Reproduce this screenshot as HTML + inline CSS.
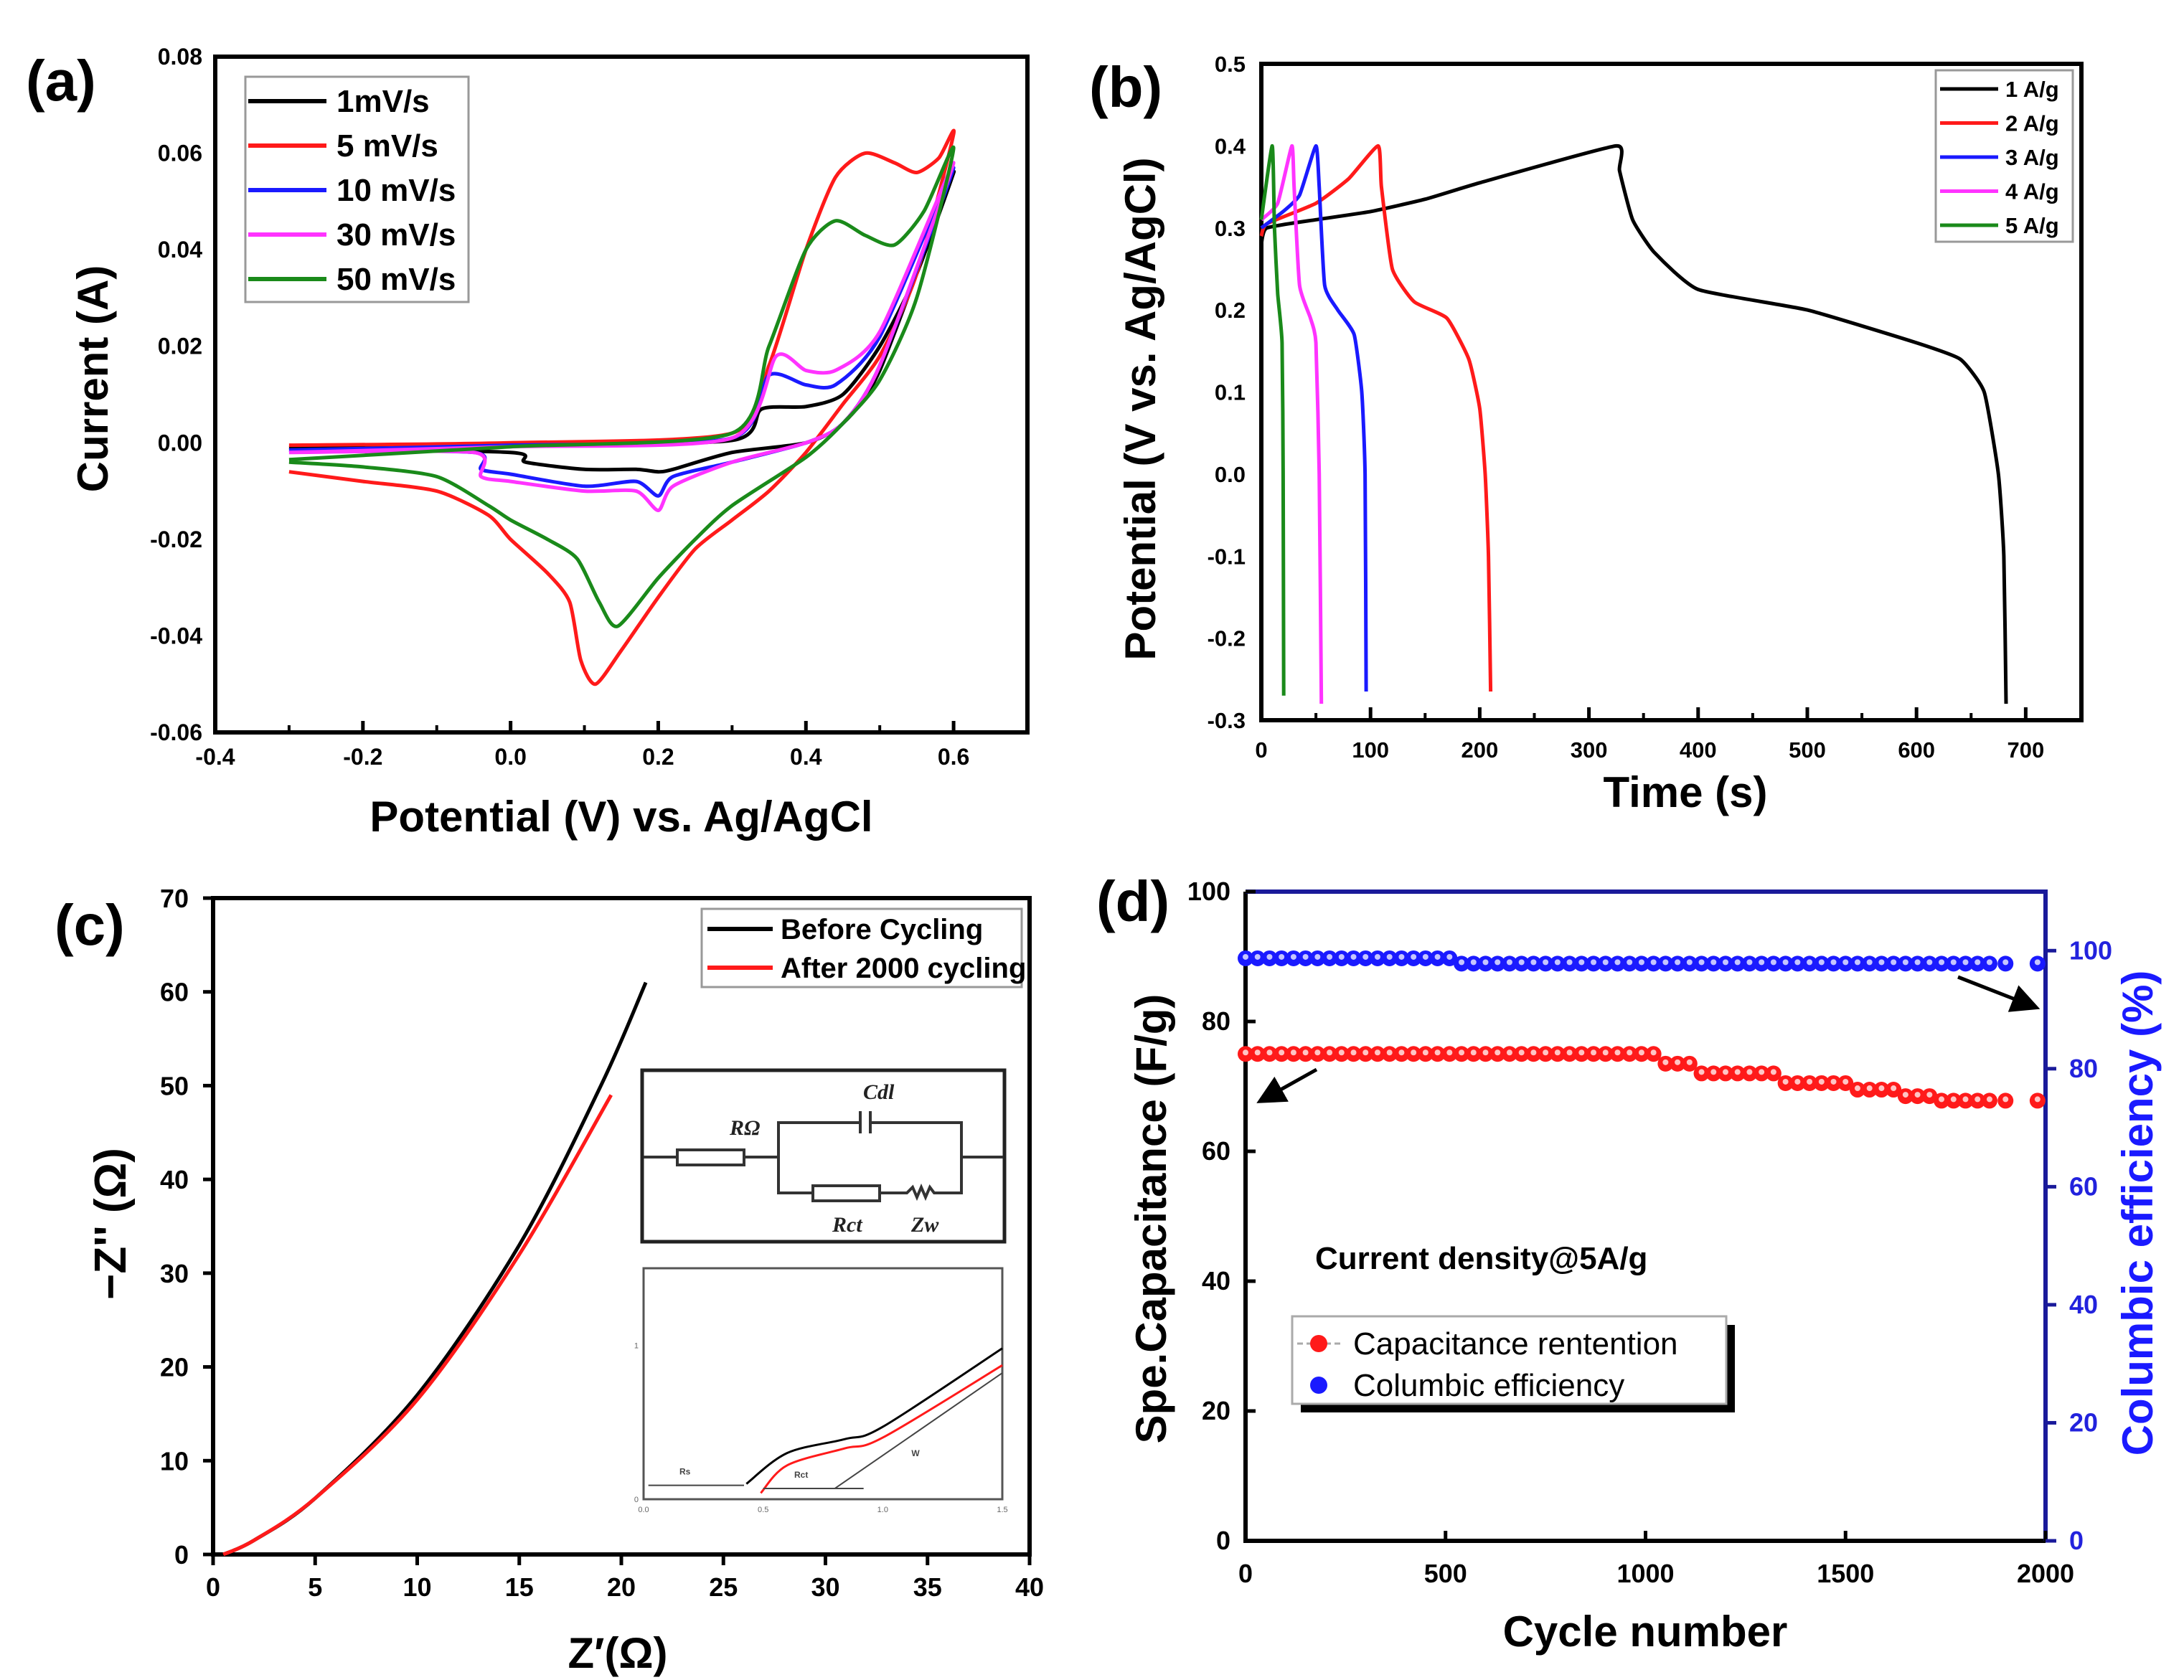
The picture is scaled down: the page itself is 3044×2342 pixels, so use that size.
<!DOCTYPE html>
<html><head><meta charset="utf-8"><style>
html,body{margin:0;padding:0;background:#fff}
svg{display:block;font-family:"Liberation Sans Narrow","Liberation Sans",Arial,sans-serif;font-weight:bold}
</style></head><body>
<svg id="fig" width="3044" height="2342" viewBox="0 0 3044 2342" xmlns="http://www.w3.org/2000/svg"></svg>
<script>
// ---------- data panel (a) CV ----------
const cvNames=["1mV/s","5 mV/s","10 mV/s","30 mV/s","50 mV/s"];
const cvColors=["#000000","#ff1a1a","#1a1aff","#ff33ff","#1a8a1a"];
const cv1=[[-0.3,-0.001],[0,-0.0005],[0.3,0.0005],[0.34,0.007],[0.4,0.0075],[0.45,0.01],[0.5,0.02],[0.55,0.035],[0.6,0.056],[0.5,0.015],[0.45,0.004],[0.4,0.0],[0.3,-0.002],[0.22,-0.0055],[0.2,-0.006],[0.17,-0.0055],[0.1,-0.0055],[0.02,-0.004],[0,-0.002],[-0.3,-0.001]];
const cv5=[[-0.3,-0.0005],[0,0.0],[0.3,0.002],[0.35,0.016],[0.4,0.04],[0.44,0.055],[0.48,0.06],[0.52,0.058],[0.55,0.056],[0.58,0.059],[0.6,0.064],[0.55,0.035],[0.5,0.018],[0.45,0.008],[0.4,-0.002],[0.35,-0.01],[0.3,-0.016],[0.25,-0.022],[0.2,-0.032],[0.15,-0.043],[0.115,-0.05],[0.095,-0.045],[0.08,-0.033],[0.05,-0.027],[0.0,-0.02],[-0.03,-0.015],[-0.1,-0.01],[-0.2,-0.008],[-0.3,-0.006]];
const cv10=[[-0.3,-0.0015],[0,-0.0005],[0.3,0.001],[0.35,0.014],[0.4,0.012],[0.44,0.012],[0.5,0.022],[0.6,0.057],[0.5,0.016],[0.45,0.004],[0.4,0.0],[0.3,-0.004],[0.22,-0.007],[0.2,-0.011],[0.17,-0.008],[0.1,-0.009],[0.0,-0.0065],[-0.04,-0.0055],[-0.05,-0.002],[-0.3,-0.0015]];
const cv30=[[-0.3,-0.002],[0,-0.0008],[0.3,0.001],[0.36,0.018],[0.4,0.015],[0.44,0.015],[0.5,0.023],[0.6,0.058],[0.5,0.016],[0.45,0.004],[0.4,0.0],[0.3,-0.004],[0.22,-0.009],[0.2,-0.014],[0.17,-0.010],[0.1,-0.010],[0.0,-0.008],[-0.04,-0.007],[-0.05,-0.002],[-0.3,-0.002]];
const cv50=[[-0.3,-0.0035],[0,-0.0008],[0.3,0.002],[0.35,0.02],[0.4,0.04],[0.44,0.046],[0.48,0.043],[0.52,0.041],[0.56,0.048],[0.6,0.061],[0.55,0.03],[0.5,0.013],[0.45,0.004],[0.4,-0.003],[0.3,-0.013],[0.25,-0.02],[0.2,-0.028],[0.145,-0.038],[0.12,-0.033],[0.09,-0.024],[0.05,-0.02],[0.0,-0.016],[-0.03,-0.013],[-0.1,-0.007],[-0.2,-0.005],[-0.3,-0.004]];
const cvSeries=[cv1,cv5,cv10,cv30,cv50];
const aXTicks=[-0.4,-0.2,0.0,0.2,0.4,0.6];
const aYTicks=[0.08,0.06,0.04,0.02,0.00,-0.02,-0.04,-0.06];
// ---------- panel (b) GCD ----------
const gcdNames=["1 A/g","2 A/g","3 A/g","4 A/g","5 A/g"];
const gcdColors=["#000000","#ff1a1a","#1a1aff","#ff33ff","#1a8a1a"];
const g1=[[0,0.28],[5,0.30],[50,0.31],[100,0.32],[150,0.335],[200,0.355],[325,0.40],[328,0.37],[340,0.31],[360,0.27],[400,0.225],[500,0.20],[600,0.16],[640,0.14],[662,0.10],[675,0.0],[680,-0.1],[682,-0.28]];
const g2=[[0,0.29],[5,0.305],[50,0.33],[80,0.36],[107,0.40],[110,0.35],[120,0.25],[140,0.21],[170,0.19],[190,0.14],[200,0.08],[205,0.0],[208,-0.1],[210,-0.265]];
const g3=[[0,0.30],[20,0.32],[35,0.34],[50,0.40],[53,0.35],[58,0.23],[70,0.20],[85,0.17],[92,0.10],[95,0.0],[96,-0.265]];
const g4=[[0,0.31],[15,0.33],[28,0.40],[30,0.35],[35,0.23],[45,0.19],[50,0.16],[53,0.0],[55,-0.28]];
const g5=[[0,0.31],[10,0.40],[12,0.30],[15,0.22],[19,0.16],[20,0.0],[20.5,-0.27]];
const gcdSeries=[g1,g2,g3,g4,g5];
const bXTicks=[0,100,200,300,400,500,600,700];
const bYTicks=[0.5,0.4,0.3,0.2,0.1,0.0,-0.1,-0.2,-0.3];
// ---------- panel (c) EIS ----------
const eisNames=["Before Cycling","After 2000 cycling"];
const eisColors=["#000000","#ff1a1a"];
const eisBefore=[[0.5,0],[2,1.5],[5,6],[10,17],[15,33],[19,50],[21.2,61]];
const eisAfter=[[0.5,0],[2,1.5],[5,6],[10,16.5],[15,32],[19.5,49]];
const insetBefore=[[0.43,0.1],[0.6,0.30],[0.84,0.39],[1.0,0.47],[1.5,0.98]];
const insetAfter=[[0.49,0.04],[0.6,0.22],[0.84,0.33],[1.0,0.40],[1.5,0.87]];
const cXTicks=[0,5,10,15,20,25,30,35,40];
const cYTicks=[0,10,20,30,40,50,60,70];
// ---------- panel (d) cycling ----------
const cycles=[0,30,60,90,120,150,180,210,240,270,300,330,360,390,420,450,480,510,540,570,600,630,660,690,720,750,780,810,840,870,900,930,960,990,1020,1050,1080,1110,1140,1170,1200,1230,1260,1290,1320,1350,1380,1410,1440,1470,1500,1530,1560,1590,1620,1650,1680,1710,1740,1770,1800,1830,1860,1900,1980];
const capacitance=[75,75,75,75,75,75,75,75,75,75,75,75,75,75,75,75,75,75,75,75,75,75,75,75,75,75,75,75,75,75,75,75,75,75,75,73.5,73.5,73.5,72,72,72,72,72,72,72,70.5,70.5,70.5,70.5,70.5,70.5,69.5,69.5,69.5,69.5,68.5,68.5,68.5,67.8,67.8,67.8,67.8,67.8,67.8,67.8];
const efficiency=[98.7,98.7,98.7,98.7,98.7,98.7,98.7,98.7,98.7,98.7,98.7,98.7,98.7,98.7,98.7,98.7,98.7,98.7,97.8,97.8,97.8,97.8,97.8,97.8,97.8,97.8,97.8,97.8,97.8,97.8,97.8,97.8,97.8,97.8,97.8,97.8,97.8,97.8,97.8,97.8,97.8,97.8,97.8,97.8,97.8,97.8,97.8,97.8,97.8,97.8,97.8,97.8,97.8,97.8,97.8,97.8,97.8,97.8,97.8,97.8,97.8,97.8,97.8,97.8,97.8];
const dXTicks=[0,500,1000,1500,2000];
const dYTicks=[0,20,40,60,80,100];
const dY2Ticks=[0,20,40,60,80,100];

const NS="http://www.w3.org/2000/svg";
const svg=document.getElementById('fig');
function el(tag,attrs,parent,text){const e=document.createElementNS(NS,tag);for(const k in attrs)e.setAttribute(k,attrs[k]);if(text!==undefined)e.textContent=text;(parent||svg).appendChild(e);return e;}
function lin(d0,d1,p0,p1){return v=>p0+(v-d0)*(p1-p0)/(d1-d0);}
function smooth(pts,tt){let d="M"+pts[0][0].toFixed(1)+","+pts[0][1].toFixed(1);
 const t=tt===undefined?0.16:tt;
 for(let i=0;i<pts.length-1;i++){const p0=pts[i-1]||pts[i],p1=pts[i],p2=pts[i+1],p3=pts[i+2]||p2;
 const c1=[p1[0]+(p2[0]-p0[0])*t,p1[1]+(p2[1]-p0[1])*t],c2=[p2[0]-(p3[0]-p1[0])*t,p2[1]-(p3[1]-p1[1])*t];
 d+=" C"+c1[0].toFixed(1)+","+c1[1].toFixed(1)+" "+c2[0].toFixed(1)+","+c2[1].toFixed(1)+" "+p2[0].toFixed(1)+","+p2[1].toFixed(1);}return d;}
function frame(g,x0,y0,x1,y1,color){const r=el('rect',{x:x0,y:y0,width:x1-x0,height:y1-y0,fill:'none',stroke:color||'#000','stroke-width':6},g);
 
 }

// ===== Panel A =====
(function(){
const g=el('g',{});
const X=lin(-0.4,0.7,300,1432),Y=lin(0.08,-0.06,79,1021);
frame(g,300,79,1432,1021);
aXTicks.forEach(v=>{el('line',{x1:X(v),x2:X(v),y1:1021,y2:1005,stroke:'#000','stroke-width':5},g);
 const t=el('text',{x:X(v),y:1066,'font-size':32,'text-anchor':'middle'},g,v.toFixed(1));});
[-0.3,-0.1,0.1,0.3,0.5].forEach(v=>el('line',{x1:X(v),x2:X(v),y1:1021,y2:1011,stroke:'#000','stroke-width':4},g));
aYTicks.forEach(v=>{const t=el('text',{x:282,y:Y(v)+11,'font-size':32,'text-anchor':'end'},g,v.toFixed(2));});
cvSeries.forEach((s,i)=>{const p=el('path',{d:smooth(s.map(q=>[X(q[0]),Y(q[1])]),0.12),fill:'none',stroke:cvColors[i],'stroke-width':5,'stroke-linejoin':'round'},g);
 });
const lg=el('g',{},g);
el('rect',{x:342,y:107,width:311,height:314,fill:'#fff',stroke:'#999','stroke-width':3},lg);
cvNames.forEach((n,i)=>{const y=141+i*62;el('line',{x1:346,x2:455,y1:y,y2:y,stroke:cvColors[i],'stroke-width':6},lg);
 const t=el('text',{x:469,y:y+15,'font-size':44},lg,n);});
const yt=el('text',{x:0,y:0,'font-size':60,'text-anchor':'middle',transform:'translate(150,528) rotate(-90)'},g,'Current (A)');
const xt=el('text',{x:866,y:1159,'font-size':60,'text-anchor':'middle'},g,'Potential (V) vs. Ag/AgCl');
const pl=el('text',{x:36,y:140,'font-size':80},g,'(a)');
})();

// ===== Panel B =====
(function(){
const g=el('g',{});
const X=lin(0,751,1758,2901),Y=lin(0.5,-0.3,89,1004);
frame(g,1758,89,2901,1004);
bXTicks.forEach(v=>{el('line',{x1:X(v),x2:X(v),y1:1004,y2:986,stroke:'#000','stroke-width':5},g);
 const t=el('text',{x:X(v),y:1056,'font-size':31,'text-anchor':'middle'},g,String(v));});
[50,150,250,350,450,550,650].forEach(v=>el('line',{x1:X(v),x2:X(v),y1:1004,y2:994,stroke:'#000','stroke-width':4},g));
bYTicks.forEach(v=>{const t=el('text',{x:1736,y:Y(v)+11,'font-size':31,'text-anchor':'end'},g,v.toFixed(1));});
gcdSeries.forEach((s,i)=>{const p=el('path',{d:smooth(s.map(q=>[X(q[0]),Y(q[1])]),0.08),fill:'none',stroke:gcdColors[i],'stroke-width':5,'stroke-linejoin':'round'},g);
 });
const lg=el('g',{},g);
el('rect',{x:2698,y:98,width:191,height:239,fill:'#fff',stroke:'#999','stroke-width':3},lg);
gcdNames.forEach((n,i)=>{const y=124+i*47.5;el('line',{x1:2704,x2:2785,y1:y,y2:y,stroke:gcdColors[i],'stroke-width':5},lg);
 const t=el('text',{x:2795,y:y+11,'font-size':31},lg,n);});
const yt=el('text',{x:0,y:0,'font-size':60,'text-anchor':'middle',transform:'translate(1610,570) rotate(-90)'},g,'Potential (V vs. Ag/AgCl)');
const xt=el('text',{x:2349,y:1125,'font-size':60,'text-anchor':'middle'},g,'Time (s)');
const pl=el('text',{x:1518,y:149,'font-size':80},g,'(b)');
})();

// ===== Panel C =====
(function(){
const g=el('g',{});
const X=lin(0,40,297,1435),Y=lin(70,0,1252,2167);
frame(g,297,1252,1435,2167);
cXTicks.forEach(v=>{el('line',{x1:X(v),x2:X(v),y1:2167,y2:2182,stroke:'#000','stroke-width':5},g);
 const t=el('text',{x:X(v),y:2225,'font-size':36,'text-anchor':'middle'},g,String(v));});
cYTicks.forEach(v=>{el('line',{x1:297,x2:283,y1:Y(v),y2:Y(v),stroke:'#000','stroke-width':5},g);
 const t=el('text',{x:263,y:Y(v)+13,'font-size':36,'text-anchor':'end'},g,String(v));});
[eisBefore,eisAfter].forEach((s,i)=>{const p=el('path',{d:smooth(s.map(q=>[X(q[0]),Y(q[1])])),fill:'none',stroke:eisColors[i],'stroke-width':5},g);
 });
const lg=el('g',{},g);
el('rect',{x:978,y:1267,width:446,height:109,fill:'#fff',stroke:'#999','stroke-width':3},lg);
eisNames.forEach((n,i)=>{const y=1295+i*54;el('line',{x1:986,x2:1077,y1:y,y2:y,stroke:eisColors[i],'stroke-width':6},lg);
 const t=el('text',{x:1088,y:y+14,'font-size':40},lg,n);});
const ci=el('g',{stroke:'#333','stroke-width':4,fill:'none'},g);
el('rect',{x:895,y:1492,width:505,height:239,stroke:'#222','stroke-width':5},ci);
el('path',{d:'M897,1613 H944 M1037,1613 H1085 V1565 H1199 M1213,1565 H1340 V1613 H1398 M1085,1613 V1663 H1133 M1226,1663 H1264 l8,-8 l6,14 l6,-14 l6,14 l6,-14 l6,8 H1340 V1613 M1199,1549 V1580 M1213,1549 V1580'},ci);
el('rect',{x:944,y:1603,width:93,height:21},ci);el('rect',{x:1133,y:1653,width:93,height:21},ci);
const ct=el('g',{'font-family':'Liberation Serif,serif','font-style':'italic','font-size':30,fill:'#222'},g);
el('text',{x:1017,y:1582},ct,'RΩ');el('text',{x:1203,y:1532},ct,'Cdl');el('text',{x:1160,y:1717},ct,'Rct');el('text',{x:1270,y:1717},ct,'Zw');
const IX=lin(0,1.5,897,1397),IY=lin(0,1.5,2090,1768);
const ni=el('g',{},g);
el('rect',{x:897,y:1768,width:500,height:322,fill:'#fff',stroke:'#555','stroke-width':3},ni);
[[0,'0.0'],[0.5,'0.5'],[1.0,'1.0'],[1.5,'1.5']].forEach(a=>el('text',{x:IX(a[0]),y:2108,'font-size':11,'text-anchor':'middle',fill:'#666','font-weight':'normal'},ni,a[1]));
el('text',{x:890,y:IY(1)+4,'font-size':11,'text-anchor':'end',fill:'#666','font-weight':'normal'},ni,'1');
el('text',{x:890,y:IY(0)+4,'font-size':11,'text-anchor':'end',fill:'#666','font-weight':'normal'},ni,'0');
el('path',{d:smooth(insetBefore.map(q=>[IX(q[0]),IY(q[1])])),fill:'none',stroke:'#000','stroke-width':3},ni);
el('path',{d:smooth(insetAfter.map(q=>[IX(q[0]),IY(q[1])])),fill:'none',stroke:'#ff1a1a','stroke-width':3},ni);
el('path',{d:`M${IX(0.8)},${IY(0.07)} L${IX(1.5)},${IY(0.82)} M${IX(0.42)},${IY(0.09)} H${IX(0.02)} M${IX(0.5)},${IY(0.07)} H${IX(0.92)}`,stroke:'#444','stroke-width':2,fill:'none'},ni);
el('text',{x:IX(0.15),y:IY(0.16),'font-size':12,fill:'#444'},ni,'Rs');el('text',{x:IX(0.63),y:IY(0.14),'font-size':12,fill:'#444'},ni,'Rct');el('text',{x:IX(1.12),y:IY(0.28),'font-size':12,fill:'#444'},ni,'W');
const yt=el('text',{x:0,y:0,'font-size':62,'text-anchor':'middle',transform:'translate(175,1706) rotate(-90)'},g,'\u2212Z\'\' (\u03A9)');
const xt=el('text',{x:861,y:2325,'font-size':60,'text-anchor':'middle'},g,'Z\u2032(\u03A9)');
const pl=el('text',{x:76,y:1317,'font-size':80},g,'(c)');
})();

// ===== Panel D =====
(function(){
const g=el('g',{});
const X=lin(0,2000,1736,2851),Y=lin(0,100,2148,1243),Y2=lin(0,110,2148,1243);
el('path',{d:'M1736,1243 V2148 H2851',fill:'none',stroke:'#000','stroke-width':6},g);
el('path',{d:'M1736,1243 H2851 V2148',fill:'none',stroke:'#1a1a9a','stroke-width':6},g);
dXTicks.forEach(v=>{el('line',{x1:X(v),x2:X(v),y1:2148,y2:2134,stroke:'#000','stroke-width':5},g);
 const t=el('text',{x:X(v),y:2206,'font-size':36,'text-anchor':'middle'},g,String(v));});
dYTicks.forEach(v=>{el('line',{x1:1736,x2:1750,y1:Y(v),y2:Y(v),stroke:'#000','stroke-width':5},g);
 const t=el('text',{x:1715,y:Y(v)+12,'font-size':36,'text-anchor':'end'},g,String(v));});
dY2Ticks.forEach(v=>{el('line',{x1:2851,x2:2866,y1:Y2(v),y2:Y2(v),stroke:'#1a1a9a','stroke-width':5},g);
 const t=el('text',{x:2884,y:Y2(v)+12,'font-size':36,fill:'#2222dd'},g,String(v));});
function marker(cx,cy,col,name){const m=el('g',{},g);
 el('circle',{cx:cx,cy:cy,r:11,fill:col},m);el('circle',{cx:cx,cy:cy-2,r:4,fill:'#fff','fill-opacity':0.75},m);}
cycles.forEach((c,i)=>marker(X(c),Y(capacitance[i]),'#ff1a1a','capacitance-point'));
cycles.forEach((c,i)=>marker(X(c),Y2(efficiency[i]),'#1a1aff','efficiency-point'));
el('defs',{},g).innerHTML='<marker id="ah" markerWidth="8" markerHeight="8" refX="6" refY="4" orient="auto"><path d="M0,0 L8,4 L0,8 z" fill="#000"/></marker>';
el('line',{x1:1835,y1:1491,x2:1760,y2:1533,stroke:'#000','stroke-width':5,'marker-end':'url(#ah)'},g);
el('line',{x1:2729,y1:1362,x2:2834,y2:1403,stroke:'#000','stroke-width':5,'marker-end':'url(#ah)'},g);
const ann=el('text',{x:1833,y:1769,'font-size':44},g,'Current density@5A/g');
const lg=el('g',{},g);
el('rect',{x:1813,y:1847,width:605,height:122,fill:'#000'},lg);
el('rect',{x:1801,y:1835,width:605,height:122,fill:'#fff',stroke:'#aaa','stroke-width':3},lg);
el('line',{x1:1808,x2:1868,y1:1873,y2:1873,stroke:'#aaa','stroke-width':3,'stroke-dasharray':'8,5'},lg);
el('circle',{cx:1838,cy:1873,r:12,fill:'#ff1a1a'},lg);el('circle',{cx:1838,cy:1931,r:12,fill:'#1a1aff'},lg);
const t1=el('text',{x:1886,y:1888,'font-size':44,'font-weight':'normal'},lg,'Capacitance rentention');
const t2=el('text',{x:1886,y:1946,'font-size':44,'font-weight':'normal'},lg,'Columbic efficiency');
const yt=el('text',{x:0,y:0,'font-size':60,'text-anchor':'middle',transform:'translate(1625,1699) rotate(-90)'},g,'Spe.Capacitance (F/g)');
const yt2=el('text',{x:0,y:0,'font-size':60,'text-anchor':'middle',fill:'#1a1aff',transform:'translate(3000,1691) rotate(-90)'},g,'Columbic efficiency (%)');
const xt=el('text',{x:2293,y:2295,'font-size':60,'text-anchor':'middle'},g,'Cycle number');
const pl=el('text',{x:1528,y:1284,'font-size':80},g,'(d)');
})();
</script>
</body></html>
